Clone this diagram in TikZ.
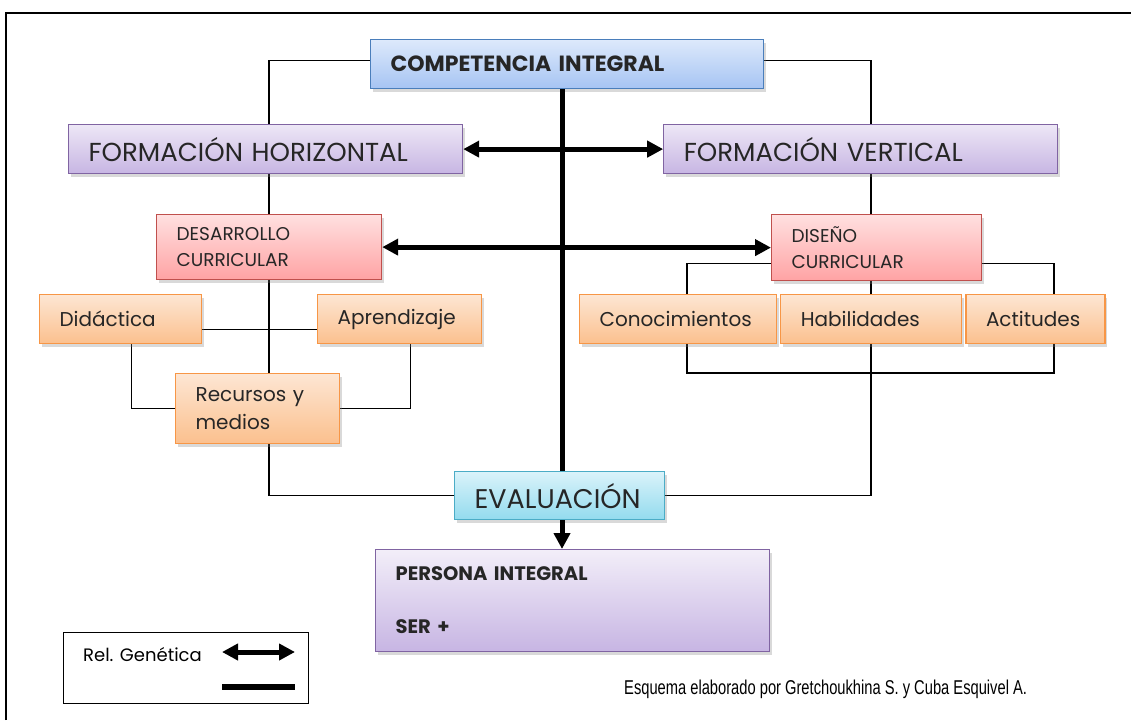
\documentclass[tikz,border=0pt]{standalone}
\usepackage{xcolor}
\usepackage{fontspec}
\setmainfont{Poppins}
\newfontfamily\notefont{Liberation Sans}[FakeStretch=0.735]
\usepackage{tikz}
\usetikzlibrary{shapes,arrows.meta,positioning,shadows,backgrounds}

\definecolor{blueTop}{HTML}{DDE9FB}
\definecolor{blueBot}{HTML}{A6C4F3}
\definecolor{blueLine}{HTML}{4A7EBB}
\definecolor{lilacTop}{HTML}{EDE7F6}
\definecolor{lilacBot}{HTML}{C7B5E3}
\definecolor{lilacLine}{HTML}{8064A2}
\definecolor{roseTop}{HTML}{FFE0E0}
\definecolor{roseBot}{HTML}{FFA3A4}
\definecolor{roseLine}{HTML}{C0504D}
\definecolor{orangeTop}{HTML}{FDE6D3}
\definecolor{orangeBot}{HTML}{FBC08E}
\definecolor{orangeLine}{HTML}{F79646}
\definecolor{cyanTop}{HTML}{DAF3FA}
\definecolor{cyanBot}{HTML}{93DBEE}
\definecolor{cyanLine}{HTML}{4BACC6}

\begin{document}
\begin{tikzpicture}[
    x=1pt, y=-1pt,
    box/.style={rectangle, draw, line width=1.2pt, anchor=north west, align=left, inner xsep=20pt, inner ysep=0pt, text=black!85, drop shadow={shadow xshift=2pt, shadow yshift=-3pt, opacity=0.3}},
    competence/.style={box, top color=blueTop, bottom color=blueBot, draw=blueLine, font=\bfseries\fontsize{22}{24}\selectfont},
    formation/.style={box, top color=lilacTop, bottom color=lilacBot, draw=lilacLine, font=\fontsize{26}{30}\selectfont},
    curriculum/.style={box, top color=roseTop, bottom color=roseBot, draw=roseLine, font=\fontsize{18.5}{26}\selectfont},
    component/.style={box, top color=orangeTop, bottom color=orangeBot, draw=orangeLine, font=\fontsize{20}{28}\selectfont},
    evaluation/.style={box, top color=cyanTop, bottom color=cyanBot, draw=cyanLine, font=\fontsize{27}{30}\selectfont},
    person/.style={box, top color=lilacTop!70!white, bottom color=lilacBot, draw=lilacLine, font=\bfseries\fontsize{19.5}{22}\selectfont},
    link/.style={line width=1.2pt},
    genetic/.style={line width=5pt, >={Triangle[length=16pt,width=16pt]}}
]
    \useasboundingbox (0,0) rectangle (1131,720);
    \draw[line width=1.5pt] (6,720) -- (6,13) -- (1131,13);

    % Top
    \node[competence, text width=353pt, minimum height=49pt] (comp) at (370,39) {COMPETENCIA INTEGRAL};

    % Formation row
    \node[formation, text width=354pt, minimum height=49pt] (fh) at (68,124) {FORMACIÓN HORIZONTAL};
    \node[formation, text width=354pt, minimum height=49pt, right=200pt of fh] (fv) {FORMACIÓN VERTICAL};

    % Curriculum row
    \node[curriculum, text width=185pt, minimum height=65pt] (dc) at (156,214) {DESARROLLO\\CURRICULAR};
    \node[curriculum, text width=170pt, minimum height=66pt] (dis) at (771,214) {DISEÑO\\CURRICULAR};

    % Left components
    \node[component, text width=122pt, minimum height=49pt] (did) at (39,294) {Didáctica};
    \node[component, text width=124pt, minimum height=49pt] (apr) at (317,294) {Aprendizaje};
    \node[component, text width=124pt, minimum height=70pt] (rec) at (175,373) {Recursos y\\medios};

    % Right components
    \node[component, text width=157pt, minimum height=49pt] (con) at (579,294) {Conocimientos};
    \node[component, text width=141pt, minimum height=49pt, right=3pt of con] (hab) {Habilidades};
    \node[component, text width=99pt, minimum height=49pt, right=3pt of hab] (act) {Actitudes};

    % Bottom
    \node[evaluation, text width=170pt, minimum height=48pt] (eval) at (454,471) {EVALUACIÓN};
    \node[person, text width=354pt, minimum height=102pt] (pers) at (375,549) {PERSONA INTEGRAL\\[31pt]SER +};

    % Thick relations
    \coordinate (spine) at (562,0);
    \draw[genetic] (spine |- comp.south) -- (spine |- eval.north);
    \draw[genetic, ->] (spine |- eval.south) -- (spine |- pers.north);
    \draw[genetic, ->] (spine |- fh.east) -- (fh.east);
    \draw[genetic, ->] (spine |- fv.west) -- (fv.west);
    \draw[genetic, ->] (spine |- dc.east) -- (dc.east);
    \draw[genetic, ->] (spine |- dis.west) -- (dis.west);

    % Thin links
    \begin{scope}[on background layer]
        \coordinate (lcol) at (269,0);
        \coordinate (rcol) at (871,0);
        \draw[link] ([yshift=4pt]comp.west) -| (lcol |- eval.west) -- (eval.west);
        \draw[link] ([yshift=4pt]comp.east) -| (rcol |- eval.east) -- (eval.east);
        \draw[link] ([yshift=-10pt]did.east) -- ([yshift=-10pt]apr.west);
        \draw[link] ([xshift=11pt]did.south) |- (rec.west);
        \draw[link] ([xshift=11pt]apr.south) |- (rec.east);
        \coordinate (bl) at (687,373);
        \coordinate (br) at (1054,373);
        \draw[link] ([yshift=-16pt]dis.west) -| (bl) -- (br) |- ([yshift=-16pt]dis.east);
    \end{scope}

    % Legend
    \node[draw, line width=1.2pt, anchor=north west, minimum width=245pt, minimum height=71pt, inner sep=0pt] (legend) at (63,632) {};
    \node[anchor=west, inner sep=0pt, font=\fontsize{18}{20}\selectfont] (relgen) at (83,655) {Rel. Genética};
    \coordinate (la) at (222,652);
    \coordinate (lb) at (295,652);
    \draw[genetic, <->] (la) -- (lb);
    \coordinate (lc) at (222,687);
    \coordinate (ld) at (295,687);
    \draw[genetic, line width=6pt] (lc) -- (ld);

    % Credit
    \node[anchor=west, inner sep=0pt, font=\notefont\fontsize{20}{22}\selectfont] (credit) at (624,689) {Esquema elaborado por Gretchoukhina S. y Cuba Esquivel A.};
\end{tikzpicture}
\end{document}
